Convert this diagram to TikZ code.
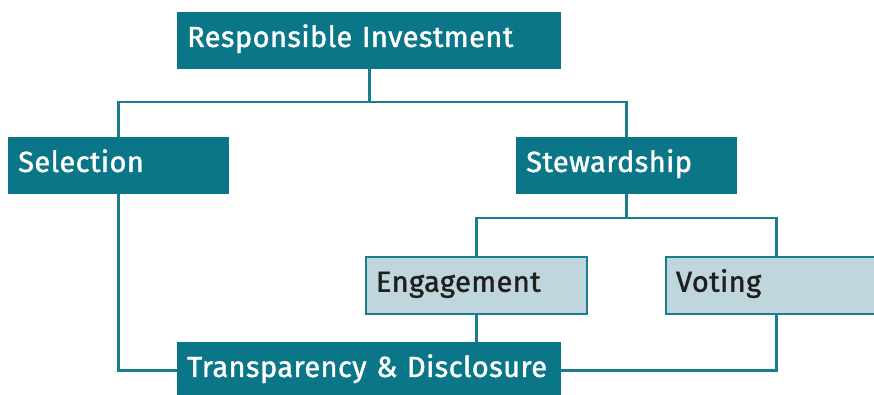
\documentclass[tikz,border=0pt]{standalone}
\usepackage{fontspec}
\newfontfamily\boxfont{Fira Sans}[FakeBold=1.4, LetterSpace=1.5]
\definecolor{riteal}{HTML}{0C7689}
\definecolor{rilight}{HTML}{BFD7DC}
\definecolor{riline}{HTML}{1C7D8F}
\begin{document}
\begin{tikzpicture}[x=1pt, y=-1pt,
    darkbox/.style={fill=riteal, text=white, anchor=north west, inner xsep=10pt,
      minimum height=57pt, text height=20pt, text depth=7.5pt, align=left,
      font=\boxfont\fontsize{29}{31}\selectfont},
    lightbox/.style={darkbox, fill=rilight, draw=riline, line width=2pt, text=black!88},
    link/.style={draw=riline, line width=2.6pt}]
                      \useasboundingbox (0, 0) rectangle (874, 394);

                      % rails between the levels
                      \coordinate (barA) at (0, 102);
                      \coordinate (barB) at (0, 218);

                      \node[darkbox, text width=364pt] (ri) at (177, 12) {Responsible Investment};
                      \node[darkbox, text width=201pt] (sel) at (8, 137) {Selection};
                      \node[darkbox, text width=201pt] (stew) at (516, 137) {Stewardship};
                      \node[lightbox, text width=201pt] (eng) at (365, 256) {Engagement};
                      \node[lightbox, text width=201pt] (vot) at (665, 256) {Voting};
                      \node[darkbox, text width=364pt] (td) at (177, 342) {Transparency \& Disclosure};

                      \draw[link] (ri.south) -- (ri.south |- barA);
                      \draw[link] (sel.north) -- (sel.north |- barA) -- (stew.north |- barA) -- (stew.north);
                      \draw[link] (stew.south) -- (stew.south |- barB);
                      \draw[link] (eng.north) -- (eng.north |- barB) -- (vot.north |- barB) -- (vot.north);
                      \draw[link] (eng.south) -- (td.north -| eng.south);
                      \draw[link] (sel.south) |- (td.west);
                      \draw[link] (vot.south) |- (td.east);
                  \end{tikzpicture}
\end{document}
